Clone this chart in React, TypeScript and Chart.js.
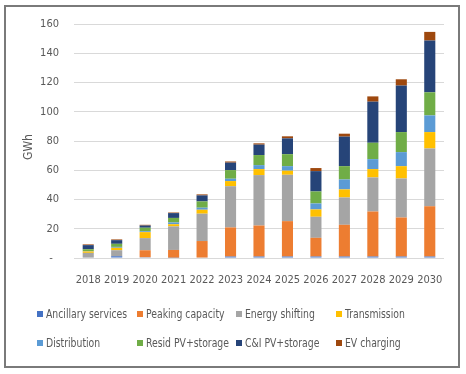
import React, { useEffect, useRef } from "react";
import { Chart, registerables } from "chart.js";

Chart.register(...registerables);

const years = ["2018", "2019", "2020", "2021", "2022", "2023", "2024", "2025", "2026", "2027", "2028", "2029", "2030"];
const ancillary = [0.3, 1.2, 0.5, 0.2, 0.3, 1.0, 1.0, 1.0, 1.0, 1.0, 1.0, 1.0, 1.0];
const peaking = [0, 0, 4.8, 5.3, 11.3, 19.9, 21.2, 24.2, 12.8, 21.7, 30.8, 26.7, 34.4];
const energyShifting = [3.2, 4.1, 8.3, 16.1, 18.7, 28.2, 34.5, 31.7, 14.4, 18.7, 23.3, 26.7, 39.5];
const transmission = [1.0, 1.7, 4.1, 1.5, 2.7, 3.5, 4.1, 2.8, 5.0, 5.5, 5.7, 8.4, 11.2];
const distribution = [0.3, 0.6, 0.6, 1.2, 1.4, 1.6, 2.7, 3.1, 4.1, 6.8, 6.8, 9.6, 11.4];
const residPV = [1.2, 2.1, 2.4, 3.1, 4.3, 5.9, 6.9, 8.2, 8.2, 9.1, 11.2, 13.7, 15.8];
const ciPV = [2.8, 2.5, 1.5, 3.3, 4.1, 5.1, 7.1, 10.8, 13.9, 20.2, 28.1, 31.8, 35.4];
const evCharging = [0.5, 0.5, 0.5, 0.4, 0.7, 0.8, 0.9, 1.4, 2.1, 2.0, 3.6, 4.3, 5.9];

const seriesLabels = [
  "Ancillary services",
  "Peaking capacity",
  "Energy shifting",
  "Transmission",
  "Distribution",
  "Resid PV+storage",
  "C&I PV+storage",
  "EV charging",
];
const seriesData = [ancillary, peaking, energyShifting, transmission, distribution, residPV, ciPV, evCharging];
const seriesColors = ["#4472C4", "#ED7D31", "#A5A5A5", "#FFC000", "#5B9BD5", "#70AD47", "#264478", "#9E480E"];

const FONT = '"DejaVu Sans Condensed", "DejaVu Sans", sans-serif';
const TEXT = "#595959";

const gwhTitle = {
  id: "gwhTitle",
  afterDraw(chart: any) {
    const ctx = chart.ctx;
    ctx.save();
    ctx.translate(29, 147);
    ctx.rotate(-Math.PI / 2);
    ctx.font = `12px ${FONT}`;
    ctx.fillStyle = TEXT;
    ctx.textAlign = "center";
    ctx.textBaseline = "middle";
    ctx.fillText("GWh", 0, 0);
    ctx.restore();
  },
};

export default function App() {
  const ref = useRef<HTMLCanvasElement>(null);

  useEffect(() => {
    if (!ref.current) return;
    const chart = new Chart(ref.current, {
      type: "bar",
      data: {
        labels: years,
        datasets: seriesLabels.map((label, i) => ({
          label,
          data: seriesData[i],
          backgroundColor: seriesColors[i],
          borderWidth: 0,
          barPercentage: 0.39,
          categoryPercentage: 1,
        })),
      },
      options: {
        responsive: false,
        animation: false,
        layout: { padding: { left: 0, right: 22, top: 24, bottom: 86 } },
        plugins: {
          legend: { display: false },
          tooltip: { enabled: false },
        },
        scales: {
          x: {
            stacked: true,
            grid: { display: false, drawTicks: false },
            border: { display: false },
            ticks: {
              color: TEXT,
              font: { family: FONT, size: 11 },
              padding: 16,
              maxRotation: 0,
              autoSkip: false,
            },
            afterFit: (s: any) => {
              s.height = 30;
            },
          },
          y: {
            stacked: true,
            min: 0,
            max: 160,
            grid: { color: "#D9D9D9", lineWidth: 1, drawTicks: false },
            border: { display: false },
            ticks: {
              stepSize: 20,
              color: TEXT,
              font: { family: FONT, size: 11 },
              padding: 15,
              callback: (v: any) => (v === 0 ? "-  " : String(v)),
            },
            afterFit: (s: any) => {
              s.width = 74;
            },
          },
        },
      },
      plugins: [gwhTitle],
    });
    return () => chart.destroy();
  }, []);

  return (
    <div style={{ position: "fixed", left: 0, top: 0, width: 466, height: 374, background: "#fff", fontFamily: FONT }}>
      <div
        style={{
          position: "absolute",
          left: 4,
          top: 5,
          width: 452,
          height: 359,
          border: "2px solid #7a7a7a",
          boxSizing: "content-box",
        }}
      />
      <canvas ref={ref} width={466} height={374} style={{ position: "absolute", left: 0, top: 0, width: 466, height: 374 }} />
      {seriesLabels.map((label, i) => {
        const col = i % 4;
        const row = Math.floor(i / 4);
        return (
          <div
            key={label}
            style={{
              position: "absolute",
              left: 37 + col * 99.7,
              top: 314 + row * 29 - 8,
              height: 16,
              display: "flex",
              alignItems: "center",
              whiteSpace: "nowrap",
              fontSize: 12,
              color: TEXT,
            }}
          >
            <span style={{ display: "inline-block", width: 6, height: 6, background: seriesColors[i], marginRight: 3 }} />
            <span style={{ display: "inline-block", transform: "scaleX(0.86)", transformOrigin: "left center" }}>{label}</span>
          </div>
        );
      })}
    </div>
  );
}
